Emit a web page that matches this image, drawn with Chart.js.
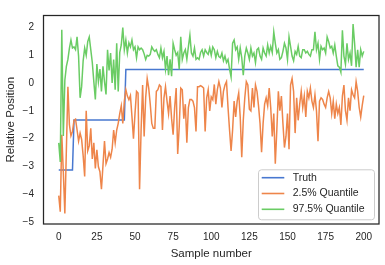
<!DOCTYPE html>
<html>
<head>
<meta charset="utf-8">
<script src="https://cdn.jsdelivr.net/npm/chart.js@4.4.0/dist/chart.umd.min.js"></script>
<style>
  html, body { margin: 0; padding: 0; background: #fff; }
  #wrap { width: 385px; height: 265px; }
</style>
</head>
<body>
<div id="wrap"><canvas id="chart" width="385" height="265"></canvas></div>
<script>
// series, one value per sample (0..200)
const truth = [
  -3.13, -3.13, -3.13, -3.13, -3.13, -3.13, -3.13, -3.13, -3.13, -3.13,
  -1.33, -1.33, -1.33, -1.33, -1.33, -1.33, -1.33, -1.33, -1.33, -1.33, -1.33, -1.33, -1.33, -1.33, -1.33, -1.33, -1.33, -1.33, -1.33, -1.33,
  -1.33, -1.33, -1.33, -1.33, -1.33, -1.33, -1.33, -1.33, -1.33, -1.33, -1.33, -1.33, -1.33, -1.33,
  0.49, 0.49, 0.49, 0.49, 0.49, 0.49, 0.49, 0.49, 0.49, 0.49, 0.49, 0.49, 0.49, 0.49, 0.49, 0.49, 0.49, 0.49, 0.49, 0.49,
  0.49, 0.49, 0.49, 0.49, 0.49, 0.49, 0.49, 0.49, 0.49, 0.49, 0.49, 0.49, 0.49, 0.49, 0.49, 0.49, 0.49, 0.49, 0.49, 0.49,
  0.49, 0.49, 0.49, 0.49, 0.49, 0.49, 0.49, 0.49, 0.49, 0.49, 0.49, 0.49, 0.49, 0.49, 0.49, 0.49, 0.49, 0.49, 0.49, 0.49,
  0.49, 0.49, 0.49, 0.49, 0.49, 0.49, 0.49, 0.49, 0.49, 0.49, 0.49, 0.49, 0.49, 0.49, 0.49, 0.49, 0.49, 0.49, 0.49, 0.49,
  0.49, 0.49, 0.49, 0.49, 0.49, 0.49, 0.49, 0.49, 0.49, 0.49, 0.49, 0.49, 0.49, 0.49, 0.49, 0.49, 0.49, 0.49, 0.49, 0.49,
  0.49, 0.49, 0.49, 0.49, 0.49, 0.49, 0.49, 0.49, 0.49, 0.49, 0.49, 0.49, 0.49, 0.49, 0.49, 0.49, 0.49, 0.49, 0.49, 0.49,
  0.49, 0.49, 0.49, 0.49, 0.49, 0.49, 0.49, 0.49, 0.49, 0.49, 0.49, 0.49, 0.49, 0.49, 0.49, 0.49, 0.49, 0.49, 0.49, 0.49,
  0.49, 0.49, 0.49, 0.49, 0.49, 0.49, 0.49, 0.49, 0.49, 0.49, 0.49, 0.49, 0.49, 0.49, 0.49, 0.49, 0.49
];

const lowerQuantile = [
  -4.05, -4.63, -1.86, -3.2, -4.69, -2.4, -0.13, -1.5, -1.9, -1.74,
  -1.34, -1.3, -1.68, -2.09, -1.8, -2.03, -2.61, -3.36, -1.0, -2.44,
  -2.26, -1.63, -2.73, -2.15, -3.07, -2.4, -3.01, -3.19, -3.82, -2.96,
  -2.09, -2.9, -2.73, -2.5, -2.67, -2.38, -1.69, -2.15, -1.69, -1.45,
  -1.1, -0.82, -1.45, -0.65, -0.24, -0.47, -0.6, -0.45, -1.2, -2.0,
  -1.1, -0.3, -0.36, -3.82, -1.69, -0.07, -1.92, -0.53, 0.16, -0.18,
  -0.76, -1.45, -1.63, -1.63, -0.3, -0.24, -0.07, -0.13, -1.69, -0.53,
  -0.13, -0.65, -1.1, -0.47, -1.28, -1.86, -0.88, -0.18, -2.55, -1.57,
  -0.18, -0.24, -1.28, -0.76, -2.15, -0.88, -0.59, -0.59, -0.65, -0.88,
  -1.74, -0.13, -0.13, -0.09, -0.13, -0.18, -1.74, -0.53, -0.24, -1.0,
  -0.5, -0.6, -0.05, -0.76, -0.24, 0.05, -0.18, -0.88, -0.3, -0.07,
  0.05, -0.88, -1.69, -2.44, -1.69, -0.65, -1.22, -0.65, -0.36, -1.22,
  -2.67, -1.34, -0.53, 0.05, -0.07, -0.94, -1.0, -0.18, -0.88, -0.07,
  -0.3, -0.82, -1.45, -2.49, -1.45, -0.76, -0.53, -0.82, -0.18, -0.88,
  -1.92, -1.1, -2.9, -1.69, -0.3, -0.99, -0.47, -1.45, -2.32, -1.92,
  -1.1, -2.38, -0.07, 0.16, -0.3, -1.8, -0.53, -1.34, -0.76, -0.3,
  -0.88, -0.47, -1.22, -0.3, -0.53, -0.18, -0.65, -0.88, -0.42, -1.0,
  -2.09, -0.65, -0.53, -0.59, -0.76, -0.88, -0.53, -0.3, -0.53, -1.1,
  -0.65, -1.28, -0.76, -1.1, -0.88, -1.51, -0.47, -0.07, -0.99, -1.34,
  -0.53, -0.99, -0.24, -0.42, -0.53, 0.05, -0.3, -0.88, -1.22, -0.8,
  -0.45
];

const upperQuantile = [
  -2.15, -2.84, 1.92, -1.9, 0.1, 0.6, 0.85, 1.26, 1.55, 1.26,
  1.3, 1.2, 1.66, 0.97, -0.53, -0.13, 0.8, 1.26, 1.0, 1.49,
  1.66, 1.2, 0.74, 0.05, -0.59, 0.68, 0.05, 0.5, -0.3, 0.6,
  0.05, -0.41, 1.2, 0.45, 1.08, 0.0, 0.85, -0.24, 1.43, -0.3,
  1.1, 1.37, 2.0, 1.2, 1.55, 1.08, 1.45, 1.3, 1.55, 1.2,
  1.3, 0.91, 1.3, 1.2, 1.26, 1.2, 1.05, 0.85, 1.0, 0.97,
  1.03, 1.3, 1.2, 1.14, 1.2, 1.03, 0.91, 1.26, 0.91, 1.14,
  0.5, 0.97, 0.28, 0.85, 0.25, 1.43, 1.2, 1.0, 1.1, 0.5,
  1.66, 0.85, 1.08, 1.2, 0.85, 1.3, 1.72, 1.08, 0.97, 1.26,
  0.85, 0.91, 0.85, 1.1, 1.2, 0.97, 1.2, 1.1, 1.03, 1.26,
  1.0, 1.3, 1.2, 0.91, 1.14, 0.95, 0.91, 1.08, 0.8, 0.97,
  0.74, 0.85, 0.5, 0.22, 1.43, 1.55, 1.2, 1.3, 0.85, 1.26,
  0.91, 0.28, 0.97, 1.26, 1.08, 0.85, 1.26, 0.97, 1.08, 0.74,
  1.2, 1.26, 0.97, 0.85, 1.26, 1.08, 0.97, 1.37, 1.08, 1.32,
  1.1, 1.84, 1.43, 1.08, 1.2, 0.85, 0.91, 1.14, 1.43, 1.26,
  0.85, 1.66, 1.32, 0.97, 0.8, 1.14, 1.03, 1.32, 0.97, 0.91,
  1.2, 1.2, 1.08, 1.14, 1.03, 0.97, 1.2, 1.2, 1.84, 1.2,
  1.43, 0.85, 1.32, 1.2, 1.26, 1.08, 1.66, 1.49, 1.26, 1.32,
  1.08, 1.37, 0.97, 0.62, 0.57, 0.39, 1.9, 0.97, 0.68, 1.43,
  0.85, 1.08, 0.62, 2.12, 1.43, 0.57, 1.2, 0.57, 1.2, 0.97,
  1.14
];

const seriesLabels = ['Truth', '2.5% Quantile', '97.5% Quantile'];
const seriesColors = ['#4878d0', '#ee854a', '#6acc64'];
const xTicks = [0, 25, 50, 75, 100, 125, 150, 175, 200];
const yTicks = [-5, -4, -3, -2, -1, 0, 1, 2];

const FONT = 'Liberation Sans, Arial, sans-serif';
const INK = '#262626';

function toPoints(values) {
  return values.map((v, i) => ({ x: i, y: v }));
}

// axes frame on all four sides + legend in the lower right corner
const frameAndLegend = {
  id: 'frameAndLegend',
  afterDraw(chart) {
    const { ctx, chartArea: a } = chart;
    ctx.save();
    ctx.strokeStyle = INK;
    ctx.lineWidth = 1.25;
    ctx.strokeRect(a.left, a.top, a.right - a.left, a.bottom - a.top);

    const bw = 116, bh = 50;
    const bx = a.right - 5 - bw, by = a.bottom - 4.7 - bh;
    ctx.beginPath();
    ctx.roundRect(bx + 0.5, by + 0.5, bw, bh, 3);
    ctx.fillStyle = 'rgba(255,255,255,0.8)';
    ctx.fill();
    ctx.strokeStyle = '#cccccc';
    ctx.lineWidth = 1;
    ctx.stroke();

    ctx.font = '10.5px ' + FONT;
    ctx.textBaseline = 'middle';
    ctx.textAlign = 'left';
    seriesLabels.forEach((label, k) => {
      const y = by + 8.4 + k * 15.8;
      ctx.strokeStyle = seriesColors[k];
      ctx.lineWidth = 1.6;
      ctx.beginPath();
      ctx.moveTo(bx + 3.7, y);
      ctx.lineTo(bx + 26.3, y);
      ctx.stroke();
      ctx.fillStyle = INK;
      ctx.fillText(label, bx + 34.7, y);
    });
    ctx.restore();
  }
};

const seriesValues = [truth, lowerQuantile, upperQuantile];

new Chart(document.getElementById('chart'), {
  type: 'line',
  data: {
    datasets: seriesValues.map((vals, k) => ({
      label: seriesLabels[k],
      data: toPoints(vals),
      borderColor: seriesColors[k],
      backgroundColor: seriesColors[k],
      borderWidth: 1.5,
      pointRadius: 0,
      tension: 0,
      fill: false,
      order: 3 - k
    }))
  },
  options: {
    responsive: false,
    animation: false,
    devicePixelRatio: 1,
    layout: { padding: { top: 7.5, right: 6, left: 0, bottom: 0 } },
    plugins: {
      legend: { display: false },
      tooltip: { enabled: false }
    },
    scales: {
      x: {
        type: 'linear',
        min: -10,
        max: 210,
        grid: { display: false, drawTicks: false },
        border: { display: false },
        afterBuildTicks: s => { s.ticks = xTicks.map(v => ({ value: v })); },
        afterFit: s => { s.height = 41; },
        ticks: {
          padding: 7,
          color: INK,
          font: { family: FONT, size: 10 },
          maxRotation: 0
        },
        title: {
          display: true,
          text: 'Sample number',
          color: INK,
          font: { family: FONT, size: 11.5 },
          padding: { top: 0, bottom: 4.4 }
        }
      },
      y: {
        min: -5.07,
        max: 2.43,
        grid: { display: false, drawTicks: false },
        border: { display: false },
        afterBuildTicks: s => { s.ticks = yTicks.map(v => ({ value: v })); },
        afterFit: s => { s.width = 43.5; },
        ticks: {
          padding: 9.5,
          color: INK,
          font: { family: FONT, size: 10 },
          callback: v => String(v).replace('-', '\u2212')
        },
        title: {
          display: true,
          text: 'Relative Position',
          color: INK,
          font: { family: FONT, size: 11.5 },
          padding: { top: 4, bottom: 0 }
        }
      }
    }
  },
  plugins: [frameAndLegend]
});
</script>
</body>
</html>
